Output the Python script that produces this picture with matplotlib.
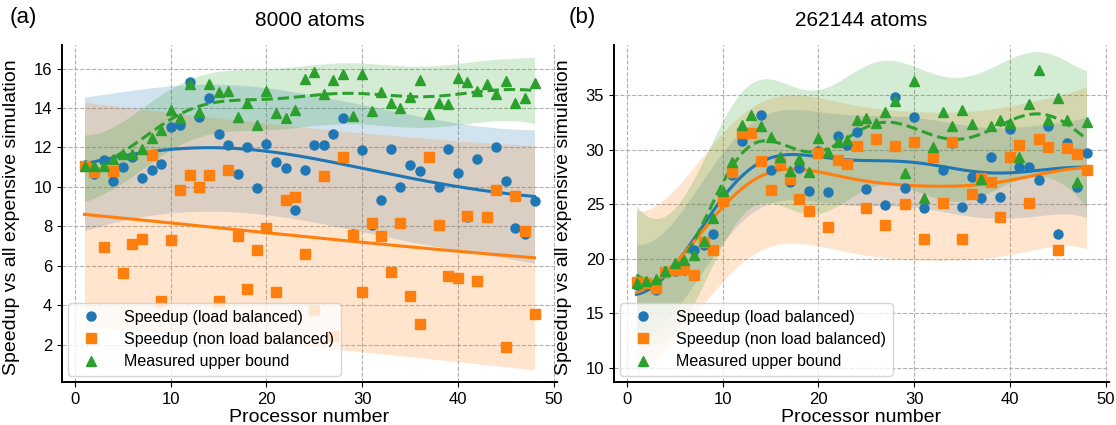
import numpy as np
import matplotlib.pyplot as plt

plt.rcParams['font.family'] = ['Liberation Sans', 'DejaVu Sans']

# Processor numbers
procs = np.arange(1, 49)

# (a) 8000 atoms
small_lb = [11.1, 10.63, 11.34, 10.32, 11.0, 11.5, 10.46, 10.87, 11.14, 13.03,
            13.12, 15.33, 13.54, 14.52, 12.66, 12.12, 10.66, 12.02, 9.95, 12.19,
            11.27, 10.97, 8.85, 10.87, 12.14, 12.12, 12.66, 13.51, 7.6, 11.85,
            8.05, 9.31, 11.92, 10.02, 11.1, 10.8, 11.5, 9.97, 11.92, 10.71,
            8.46, 11.44, 8.46, 12.02, 10.29, 7.92, 7.62, 9.29]
small_nlb = [11.07, 10.75, 6.94, 10.83, 5.64, 7.11, 7.35, 11.63, 4.23, 7.28,
             9.82, 10.6, 9.99, 10.6, 4.2, 10.85, 7.52, 4.83, 6.82, 7.92,
             4.69, 9.31, 9.51, 6.6, 3.73, 10.53, 2.42, 11.51, 7.58, 4.69,
             8.16, 7.5, 5.67, 8.16, 4.45, 3.03, 11.52, 8.09, 5.5, 5.39,
             8.5, 5.25, 8.46, 9.83, 1.86, 9.56, 7.75, 3.54]
small_ub = [11.04, 11.04, 11.07, 11.44, 11.66, 11.68, 11.93, 12.49, 12.9, 13.91,
            13.51, 15.23, 13.81, 15.23, 14.83, 14.86, 13.54, 14.28, 13.15, 14.89,
            13.74, 13.49, 13.91, 15.5, 15.81, 14.72, 15.44, 15.74, 13.61, 15.72,
            13.86, 14.81, 14.27, 13.98, 14.55, 15.4, 13.68, 14.28, 14.22, 15.54,
            15.33, 14.86, 15.23, 14.72, 15.38, 14.28, 14.49, 15.28]

# (b) 262144 atoms
big_lb = [17.6, 17.7, 17.16, 18.85, 18.85, 18.95, 20.8, 21.3, 22.29, 25.8,
          27.7, 30.8, 31.5, 33.2, 28.14, 28.7, 27.07, 28.3, 26.2, 29.9,
          26.1, 31.25, 30.4, 31.65, 26.4, 31.0, 24.94, 34.79, 26.47, 32.96,
          24.7, 29.7, 28.14, 30.6, 24.79, 27.53, 25.55, 29.36, 25.7, 31.86,
          28.45, 28.45, 27.23, 32.17, 22.29, 30.64, 26.62, 29.67]
big_nlb = [17.85, 17.8, 17.32, 18.8, 18.93, 19.08, 18.54, 21.5, 20.8, 25.3,
           27.95, 31.5, 31.5, 29.0, 26.3, 28.75, 27.32, 25.47, 24.38, 29.7,
           22.88, 29.06, 28.69, 30.34, 24.64, 30.95, 23.08, 30.34, 25.03, 30.73,
           21.8, 29.36, 25.1, 30.73, 21.8, 25.92, 27.38, 27.07, 23.81, 29.36,
           30.4, 25.15, 31.0, 30.27, 20.76, 30.18, 29.58, 28.14]
big_ub = [17.8, 17.92, 18.14, 18.9, 19.6, 19.88, 20.3, 21.6, 23.7, 26.25,
          28.9, 32.26, 33.2, 32.2, 31.13, 29.36, 28.07, 29.13, 27.96, 31.04,
          29.8, 30.68, 30.89, 32.75, 32.87, 32.41, 33.48, 34.49, 27.9, 36.31,
          25.55, 30.21, 33.48, 32.17, 33.63, 32.35, 27.29, 32.17, 32.72, 32.41,
          29.36, 34.18, 37.35, 32.72, 34.7, 32.72, 27.07, 32.56]


def gp_fit(x, y, xs, length, amp, noise):
    # plain RBF gaussian process regression, returns mean and 95% band
    x = np.asarray(x, float)
    y = np.asarray(y, float)
    m = y.mean()
    K = amp**2 * np.exp(-0.5 * (x[:, None] - x[None, :])**2 / length**2)
    K += noise**2 * np.eye(len(x))
    Ks = amp**2 * np.exp(-0.5 * (xs[:, None] - x[None, :])**2 / length**2)
    mu = m + Ks @ np.linalg.solve(K, y - m)
    v = np.linalg.solve(K, Ks.T)
    var = amp**2 - np.sum(Ks * v.T, axis=1) + noise**2
    return mu, 1.96 * np.sqrt(np.maximum(var, 0))


def panel(ax, lb, nlb, ub, params):
    xs = np.linspace(1, 48, 300)
    series = [(lb, '#1f77b4', 'o', '-', 'Speedup (load balanced)'),
              (nlb, '#ff7f0e', 's', '-', 'Speedup (non load balanced)'),
              (ub, '#2ca02c', '^', '--', 'Measured upper bound')]
    for (y, c, mk, ls, lab), p in zip(series, params):
        mu, band = gp_fit(procs, y, xs, *p)
        ax.fill_between(xs, mu - band, mu + band, color=c, alpha=0.2, lw=0)
        ax.plot(xs, mu, color=c, ls=ls, lw=2.2, zorder=3)
    for y, c, mk, ls, lab in series:
        ax.plot(procs, y, mk, color=c, ms=7.5 if mk == '^' else 6.5,
                ls='none', label=lab, zorder=4)
    ax.grid(True, ls='--', color='#b0b0b0', lw=0.8)
    ax.set_axisbelow(True)
    for s in ['top', 'right']:
        ax.spines[s].set_visible(False)
    for s in ['left', 'bottom']:
        ax.spines[s].set_linewidth(1.4)
    ax.tick_params(labelsize=12)
    ax.set_xlim(-1.35, 50.35)
    ax.set_xticks([0, 10, 20, 30, 40, 50])
    ax.set_xlabel('Processor number', fontsize=14, labelpad=2)
    ax.set_ylabel('Speedup vs all expensive simulation', fontsize=14)
    ax.yaxis.set_label_coords(-0.085, 0.49)
    ax.legend(loc='lower left', fontsize=11.5, labelspacing=0.45,
              handletextpad=1.1, borderaxespad=0.4)


fig = plt.figure(figsize=(11.16, 4.25), dpi=100)
ax1 = fig.add_axes([62 / 1116, 43 / 425, 495 / 1116, 337 / 425])
ax2 = fig.add_axes([614 / 1116, 43 / 425, 495 / 1116, 337 / 425])

panel(ax1, small_lb, small_nlb, small_ub,
      [(20, 3.0, 1.6), (80, 6.0, 2.8), (9, 2.0, 0.75)])
ax1.set_ylim(0.1, 17.2)
ax1.set_yticks([2, 4, 6, 8, 10, 12, 14, 16])

panel(ax2, big_lb, big_nlb, big_ub,
      [(10, 10, 2.0), (10, 10, 3.3), (6.5, 8, 2.7)])
ax2.set_ylim(8.7, 39.6)
ax2.set_yticks([10, 15, 20, 25, 30, 35])

fig.text(310 / 1116, 1 - 20 / 425, '8000 atoms', fontsize=15, ha='center', va='center')
fig.text(861 / 1116, 1 - 20 / 425, '262144 atoms', fontsize=15, ha='center', va='center')
fig.text(10 / 1116, 1 - 17 / 425, '(a)', fontsize=16, ha='left', va='center')
fig.text(569 / 1116, 1 - 17 / 425, '(b)', fontsize=16, ha='left', va='center')

fig.savefig('out.png', dpi=100)
